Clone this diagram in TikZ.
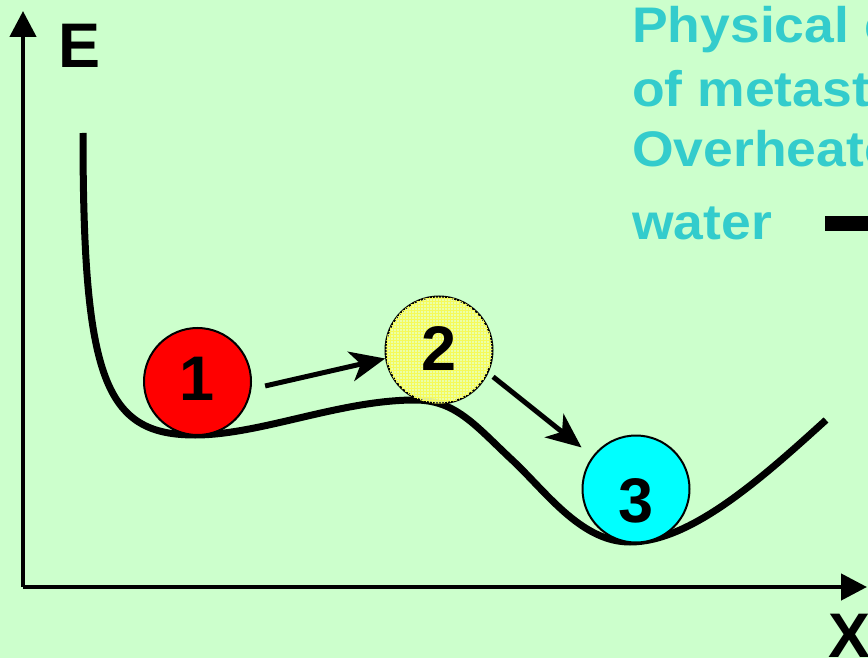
\documentclass[tikz,border=0pt]{standalone}
\usepackage{fontspec}
\setmainfont{Liberation Sans}
\newfontfamily\titlefont[FakeStretch=1.07]{Liberation Sans}
\usetikzlibrary{arrows.meta,patterns,calc}
\definecolor{bg}{RGB}{204,255,204}
\definecolor{txtcyan}{RGB}{51,204,204}
\definecolor{ballred}{RGB}{255,0,0}
\definecolor{ballcyan}{RGB}{0,255,255}
\definecolor{ballyellow}{RGB}{238,255,165}
\definecolor{gridyellow}{RGB}{245,250,90}
\tikzset{
  title/.style={anchor=base west, inner sep=0pt, text=txtcyan,
    font=\titlefont\fontsize{50pt}{60pt}\selectfont\bfseries},
  axislabel/.style={anchor=base west, inner sep=0pt,
    font=\fontsize{63pt}{70pt}\selectfont\bfseries},
  digit/.style={anchor=base, inner sep=0pt,
    font=\fontsize{63pt}{70pt}\selectfont\bfseries},
  ball/.style={circle, draw=black, line width=2pt, minimum size=107pt, inner sep=0pt},
  axis/.style={line width=4.5pt, -{Triangle[length=26pt,width=26pt]}},
  conn/.style={line width=5pt, -{Stealth[length=35pt,width=30pt,inset=10pt]}},
  energy/.style={line width=7pt}
}
\begin{document}
\begin{tikzpicture}[x=1pt,y=-1pt]
\useasboundingbox (0,0) rectangle (868,658);
\clip (0,0) rectangle (868,658);
\fill[bg] (0,0) rectangle (868,658);

% axes
\coordinate (O) at (23,587);
\coordinate (Ytip) at (23,11);
\coordinate (Xtip) at (867,587);
\draw[axis] (O) -- (Ytip);
\draw[axis] (O) -- (Xtip);
\node[axislabel] (E) at (58,68) {E};
\node[axislabel] (X) at (828,657) {X};

% title text
\node[title] (t1) at (632,43) {Physical example};
\node[title] (t2) at (632,107) {of metastable};
\node[title] (t3) at (632,167) {Overheated};
\node[title] (t4) at (632,239) {water};
\coordinate (dashA) at (825,223.5);
\coordinate (dashB) at (880,223.5);
\draw[line width=15pt] (dashA) -- (dashB);

% energy curve
\draw[energy] (83,133) .. controls (83,380) and (105,435) .. (195,435)
  .. controls (260,435) and (340,400) .. (415,400)
  .. controls (455,400) and (475,425) .. (510,458)
  .. controls (545,490) and (580,542) .. (630,542)
  .. controls (690,542) and (760,480) .. (826,420);

% balls
\node[ball, fill=ballred] (b1) at (197.5,381.5) {};
\node[ball, fill=ballyellow, fill opacity=0.92,
      postaction={pattern=grid, pattern color=gridyellow}] (b2) at (439,350) {};
\node[ball, fill=ballcyan] (b3) at (636,489) {};
\node[digit] (d1) at (197.5,400) {1};
\node[digit] (d2) at (439,370) {2};
\node[digit] (d3) at (636,522) {3};

% arrows
\draw[conn, shorten <=14pt] (b1.-8) -- (b2.189);
\draw[conn, shorten <=6pt, shorten >=14pt] (b2.-25) -- (b3.143);
\end{tikzpicture}
\end{document}
